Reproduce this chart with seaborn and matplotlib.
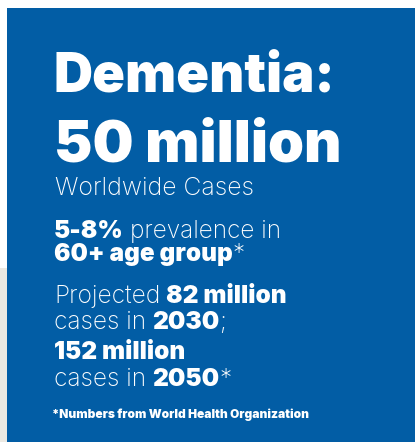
import matplotlib
matplotlib.use("Agg")
import matplotlib.pyplot as plt
from matplotlib.patches import Rectangle
from matplotlib.transforms import IdentityTransform
from matplotlib import font_manager
from matplotlib.font_manager import FontProperties
import seaborn as sns

# text content of the panel
title_line1 = [("Dementia:", "heavy")]
title_line2 = [("50 million", "heavy")]
subtitle = [("Worldwide Cases", "light")]
prevalence_lines = [
    [("5-8%", "heavy"), (" prevalence in", "light")],
    [("60+ age group", "heavy"), ("*", "light")],
]
projection_lines = [
    [("Projected", "light"), (" 82 million", "heavy")],
    [("cases in", "light"), (" 2030", "heavy"), (";", "light")],
    [("152 million", "heavy")],
    [("cases in", "light"), (" 2050", "heavy"), ("*", "light")],
]
footnote = [("*Numbers from World Health Organization", "heavy")]

BLUE = "#025DA5"
BEIGE = "#ECE9E2"
W, H = 415, 442

sns.set_theme(style="white")
plt.rcParams["font.family"] = ["Inter", "DejaVu Sans"]


def font_file(fname, weight):
    for f in font_manager.fontManager.ttflist:
        if f.fname.endswith(fname):
            return dict(fname=f.fname)
    return dict(family="DejaVu Sans", weight=weight)


FONTS = {"heavy": font_file("Inter-Black.otf", "bold"),
         "light": font_file("Inter-ExtraLight.otf", "light")}

fig = plt.figure(figsize=(W / 100, H / 100), dpi=100)
fig.patch.set_facecolor("white")
fig.patches.append(Rectangle((0, 0), 7 / W, (H - 268) / H, transform=fig.transFigure,
                             facecolor=BEIGE, edgecolor="none", zorder=0))
ax = fig.add_axes([7 / W, 0, 1 - 7 / W, (H - 8) / H])
ax.set_facecolor(BLUE)
ax.set_xticks([])
ax.set_yticks([])
sns.despine(ax=ax, left=True, bottom=True)

renderer = fig.canvas.get_renderer()


def draw_line(pieces, x, y_top, size):
    y = H - y_top
    for s, w in pieces:
        if s.startswith(" "):
            x += 0.24 * size * 100 / 72
            s = s.strip()
        fp = FontProperties(size=size, **FONTS[w])
        t = fig.text(x, y, s, transform=IdentityTransform(), fontproperties=fp,
                     color="white", va="baseline", ha="left")
        x = t.get_window_extent(renderer).x1


draw_line(title_line1, 54, 92, 39)
draw_line(title_line2, 54, 162, 41.5)
draw_line(subtitle, 55, 195, 17.8)
for line, yb in zip(prevalence_lines, [238, 261]):
    draw_line(line, 54, yb, 17.5)
for line, yb in zip(projection_lines, [303, 329, 359, 386]):
    draw_line(line, 54, yb, 17.6)
draw_line(footnote, 52, 418, 8.6)

fig.savefig("out.png", dpi=100, facecolor="white")
